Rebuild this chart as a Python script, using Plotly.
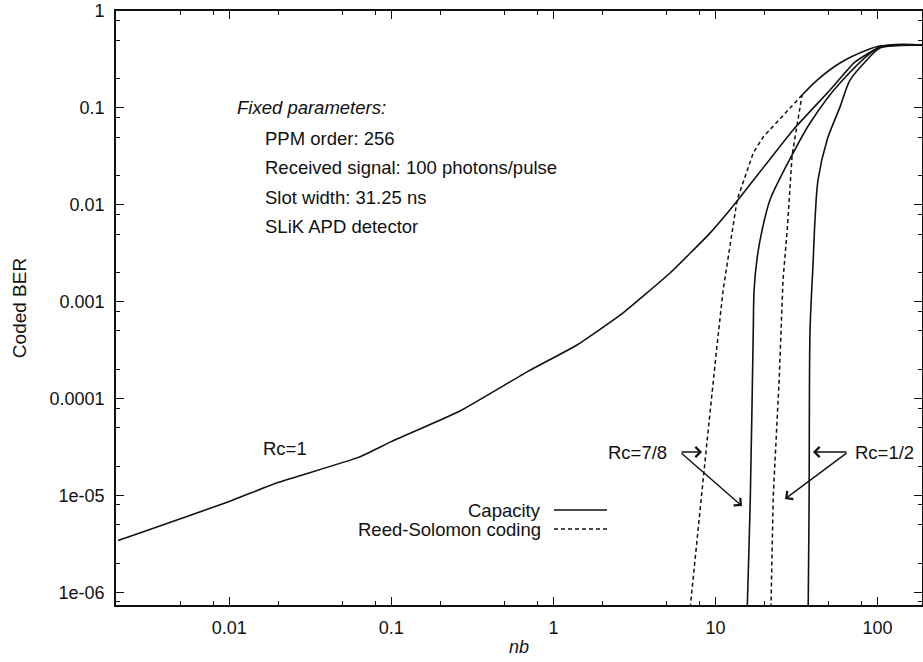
import plotly.graph_objects as go
import numpy as np

# ---- data ----
# Rc = 1 (uncoded) capacity curve
nb_rc1 = [0.00206, 0.00298, 0.01, 0.0199, 0.062, 0.1, 0.267, 0.692, 1.406, 2.59, 5.26, 9.27, 13.8,
          30.1, 50.9, 72.6, 103.5, 190]
ber_rc1 = [3.44e-6, 4.26e-6, 8.67e-6, 1.36e-5, 2.46e-5, 3.6e-5, 7.5e-5, 1.90e-4, 3.6e-4, 7.3e-4, 1.99e-3,
           5.14e-3, 0.0113, 0.0593, 0.153, 0.298, 0.425, 0.446]

# Rc = 7/8 capacity curve
nb_cap78 = [15.6, 15.7, 16.4, 17.1, 17.3, 18.1, 19.4, 21.7, 29.7, 38.3, 58.6, 103.5, 190]
ber_cap78 = [5e-7, 7.0e-7, 9.8e-6, 5.1e-4, 1.33e-3, 2.91e-3, 5.52e-3, 0.0113, 0.0328, 0.070, 0.181, 0.425, 0.446]

# Rc = 1/2 capacity curve
nb_cap12 = [37.2, 37.3, 37.8, 38.3, 40.0, 41.1, 42.9, 48.8, 58.6, 67.6, 86.0, 103.5, 190]
ber_cap12 = [5e-7, 7.0e-7, 9.1e-6, 5.1e-4, 2.52e-3, 7.0e-3, 0.0181, 0.0468, 0.102, 0.194, 0.313, 0.416, 0.446]

# Reed-Solomon Rc = 7/8 (dashed)
nb_rs78 = [6.9, 6.98, 8.89, 9.68, 10.2, 11.15, 12.3, 13.6, 17.1, 19.7, 34.2]
ber_rs78 = [5e-7, 7.0e-7, 3.78e-5, 1.57e-4, 3.44e-4, 1.33e-3, 3.69e-3, 0.0113, 0.0344, 0.0502, 0.136]

# Reed-Solomon Rc = 1/2 (dashed)
nb_rs12 = [21.9, 22.0, 22.7, 24.7, 25.4, 26.1, 27.7, 28.9, 29.7, 34.2]
ber_rs12 = [5e-7, 7.0e-7, 9.8e-6, 1.57e-4, 5.1e-4, 1.69e-3, 5.52e-3, 0.0181, 0.0328, 0.136]

# solid continuation above the Reed-Solomon curves
nb_rstop = [34.2, 42.4, 58.6, 86.0, 103.5, 190]
ber_rstop = [0.136, 0.194, 0.291, 0.396, 0.436, 0.446]

x_tickvals = [0.01, 0.1, 1, 10, 100]
x_ticktext = ["0.01", "0.1", "1", "10", "100"]
y_tickvals = [1, 0.1, 0.01, 0.001, 0.0001, 1e-5, 1e-6]
y_ticktext = ["1", "0.1", "0.01", "0.001", "0.0001", "1e-05", "1e-06"]

info_title = "Fixed parameters:"
info_lines = ["PPM order: 256", "Received signal: 100 photons/pulse",
              "Slot width: 31.25 ns", "SLiK APD detector"]

FONT = "Liberation Sans, Arial, Helvetica, sans-serif"
BLACK = "#111111"

W, H = 923, 662
L, T = 116, 11
R = W - 922
B = H - 605
pw = W - L - R
ph = H - T - B


def px(xpix):
    # window pixel -> paper fraction
    return (xpix - L) / pw


def py(ypix):
    return (H - B - ypix) / ph


fig = go.Figure()
line_solid = dict(color=BLACK, width=1.6)
line_dash = dict(color=BLACK, width=1.5, dash="4px,3px")

fig.add_trace(go.Scatter(x=nb_rc1, y=ber_rc1, mode="lines", line=dict(line_solid, shape="spline", smoothing=0.4),
                         name="Capacity", showlegend=False))
fig.add_trace(go.Scatter(x=nb_cap78, y=ber_cap78, mode="lines", line=dict(line_solid, shape="spline", smoothing=0.8),
                         showlegend=False))
fig.add_trace(go.Scatter(x=nb_cap12, y=ber_cap12, mode="lines", line=dict(line_solid, shape="spline", smoothing=0.8),
                         showlegend=False))
fig.add_trace(go.Scatter(x=nb_rs78, y=ber_rs78, mode="lines", line=line_dash,
                         name="Reed-Solomon coding", showlegend=False))
fig.add_trace(go.Scatter(x=nb_rs12, y=ber_rs12, mode="lines", line=line_dash,
                         showlegend=False))
fig.add_trace(go.Scatter(x=nb_rstop, y=ber_rstop, mode="lines", line=dict(line_solid, shape="spline", smoothing=0.8),
                         showlegend=False))

minor_vals = []
for e in range(-3, 3):
    for m in (2, 5, 8):
        minor_vals.append(m * 10.0 ** e)
minor_y = []
for e in range(-7, 0):
    for m in (2, 5, 8):
        minor_y.append(m * 10.0 ** e)

axis_common = dict(showline=True, linecolor=BLACK, linewidth=1.8, mirror="ticks",
                   ticks="inside", ticklen=8, tickwidth=1.4, tickcolor=BLACK,
                   showgrid=False, zeroline=False, automargin=False,
                   tickfont=dict(family=FONT, size=18, color=BLACK))

fig.update_xaxes(type="log", range=[np.log10(0.002), 2.274],
                 tickmode="array", tickvals=x_tickvals, ticktext=x_ticktext,
                 minor=dict(tickmode="array", tickvals=minor_vals, ticks="inside",
                            ticklen=4, tickwidth=1.2, tickcolor=BLACK, showgrid=False),
                 title=dict(text="<i>nb</i>", font=dict(family=FONT, size=18, color=BLACK),
                            standoff=4),
                 ticklabelstandoff=5,
                 **axis_common)
fig.update_yaxes(type="log", range=[-6.13, 0.0005],
                 tickmode="array", tickvals=y_tickvals, ticktext=y_ticktext,
                 minor=dict(tickmode="array", tickvals=minor_y, ticks="inside",
                            ticklen=4, tickwidth=1.2, tickcolor=BLACK, showgrid=False),
                 title=dict(text="Coded BER", font=dict(family=FONT, size=19, color=BLACK),
                            standoff=18),
                 ticklabelstandoff=6,
                 **axis_common)

ann = []
txtfont = dict(family=FONT, size=18.5, color=BLACK)
ann.append(dict(x=px(235), y=py(108), xref="paper", yref="paper", text="<i>" + info_title + "</i>",
                showarrow=False, xanchor="left", yanchor="middle", font=txtfont))
for i, t in enumerate(info_lines):
    ann.append(dict(x=px(263), y=py(138 + 29.5 * i), xref="paper", yref="paper", text=t,
                    showarrow=False, xanchor="left", yanchor="middle", font=txtfont))

ann.append(dict(x=px(285), y=py(448), xref="paper", yref="paper", text="Rc=1",
                showarrow=False, xanchor="center", yanchor="middle", font=txtfont))
ann.append(dict(x=px(637), y=py(452), xref="paper", yref="paper", text="Rc=7/8",
                showarrow=False, xanchor="center", yanchor="middle", font=txtfont))
ann.append(dict(x=px(884), y=py(452), xref="paper", yref="paper", text="Rc=1/2",
                showarrow=False, xanchor="center", yanchor="middle", font=txtfont))

# arrows (head position, tail position in window pixels)
arrows = [((702, 452), (680, 452)), ((742, 506), (680, 452)),
          ((813, 452), (848, 452)), ((785, 499), (848, 452))]
for (hx, hy), (tx, ty) in arrows:
    ann.append(dict(x=px(hx), y=py(hy), xref="paper", yref="paper", text="",
                    showarrow=True, ax=tx - hx, ay=ty - hy, axref="pixel", ayref="pixel",
                    arrowhead=4, arrowsize=1.4, arrowwidth=1.4, arrowcolor=BLACK))

# legend (gnuplot style: text then sample)
ann.append(dict(x=px(543), y=py(510), xref="paper", yref="paper", text="Capacity",
                showarrow=False, xanchor="right", yanchor="middle", font=txtfont))
ann.append(dict(x=px(543), y=py(529), xref="paper", yref="paper", text="Reed-Solomon coding",
                showarrow=False, xanchor="right", yanchor="middle", font=txtfont))
shapes = [
    dict(type="line", xref="paper", yref="paper", x0=px(554), x1=px(607), y0=py(510), y1=py(510),
         line=line_solid),
    dict(type="line", xref="paper", yref="paper", x0=px(554), x1=px(607), y0=py(529), y1=py(529),
         line=dict(color=BLACK, width=1.5, dash="4px,3px")),
]

fig.update_layout(width=W, height=H, margin=dict(l=L, r=R, t=T, b=B, autoexpand=False),
                  paper_bgcolor="white", plot_bgcolor="white",
                  annotations=ann, shapes=shapes, showlegend=False,
                  font=dict(family=FONT, color=BLACK))

fig.write_html("out.html", config={"displayModeBar": False},
               post_script="document.body.style.margin='0px';document.body.style.overflow='hidden';")
